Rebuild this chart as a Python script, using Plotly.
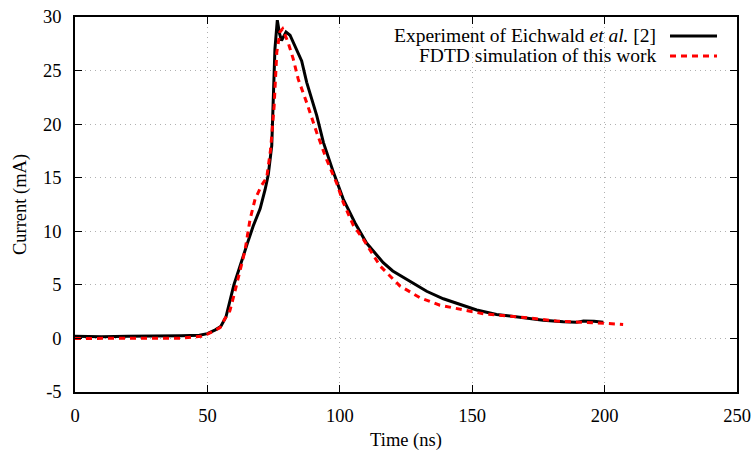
import plotly.graph_objects as go

# Experiment (Eichwald et al.)
exp_t = [0, 10, 20, 30, 40, 47, 50, 53, 55, 57, 59, 60, 62, 63.5, 65, 67.3, 69.9, 71.8, 73, 74.3,
         75.5, 76.4, 77.2, 78.0, 79.7, 81.2, 83.7, 85.6, 87.5, 91.3, 93.8, 97.6, 101.3, 105.7,
         110.1, 116.4, 120, 125.2, 132.8, 139.1, 146.6, 151.7, 159.2, 166.8, 176.8, 184.4,
         189.4, 192, 196, 199.5]
exp_i = [0.2, 0.15, 0.2, 0.2, 0.25, 0.3, 0.45, 0.8, 1.1, 2.0, 4.2, 5.0, 6.5, 7.7, 8.8, 10.5, 12.1,
         13.9, 15.3, 18.0, 27.0, 29.7, 28.5, 27.8, 28.6, 28.3, 27.0, 25.9, 23.9, 20.8, 18.3, 15.5,
         13.0, 10.8, 8.9, 7.07, 6.3, 5.5, 4.4, 3.7, 3.1, 2.65, 2.24, 2.0, 1.7, 1.55, 1.5, 1.62,
         1.6, 1.5]

# FDTD simulation
sim_t = [0, 10, 20, 30, 40, 47.8, 50, 53.5, 54.8, 56.5, 58.5, 60, 61.7, 64.2, 66.1, 68, 70.5,
         72.4, 73.9, 75.2, 76.2, 77.4, 78.4, 80.5, 82.4, 84.3, 87.5, 91.3, 95, 98.8, 101.3, 105,
         108.9, 115.2, 122.7, 130.3, 137.8, 146.6, 154.2, 168, 181.8, 196.9, 205.8, 207]
sim_i = [0.0, 0.0, 0.0, 0.0, 0.02, 0.2, 0.4, 0.84, 1.0, 1.8, 2.6, 4.0, 5.7, 8.2, 11.1, 13.0, 14.3,
         15.0, 17.7, 21.7, 26.7, 28.6, 28.9, 27.6, 26.1, 24.2, 22.0, 19.2, 16.7, 14.5, 12.7, 10.6,
         9.25, 6.76, 4.9, 3.8, 3.1, 2.65, 2.3, 2.0, 1.62, 1.46, 1.34, 1.3]

x_ticks = [0, 50, 100, 150, 200, 250]
y_ticks = [-5, 0, 5, 10, 15, 20, 25, 30]
legend_labels = ["Experiment of Eichwald <i>et al.</i> [2]", "FDTD simulation of this work"]

FONT = "Liberation Serif"
FS = 18.5
LFS = 19.5

fig = go.Figure()
fig.add_trace(go.Scatter(x=exp_t, y=exp_i, mode="lines",
                         line=dict(color="black", width=3), showlegend=False))
fig.add_trace(go.Scatter(x=sim_t, y=sim_i, mode="lines",
                         line=dict(color="#ff0000", width=3, dash="6px,5px"), showlegend=False))

axis_common = dict(showline=True, linecolor="black", linewidth=1.5, mirror="ticks",
                   ticks="inside", ticklen=7, tickwidth=1.2, tickcolor="black",
                   showgrid=True, gridcolor="#b0b0b0", griddash="1px,4px", gridwidth=1,
                   zeroline=False, automargin=False,
                   tickfont=dict(family=FONT, size=FS, color="black"))

fig.update_xaxes(range=[0, 250], tickvals=x_ticks, ticktext=[str(v) for v in x_ticks],
                 title=dict(text="Time (ns)", font=dict(family=FONT, size=FS, color="black"), standoff=8),
                 ticklabelstandoff=6, **axis_common)
fig.update_yaxes(range=[-5, 30], tickvals=y_ticks, ticktext=[str(v) for v in y_ticks],
                 title=dict(text="Current (mA)", font=dict(family=FONT, size=FS, color="black"), standoff=12),
                 ticklabelstandoff=8, **axis_common)

# Custom legend (text right-aligned, sample to the right, gnuplot style)
plot_l, plot_r, plot_t, plot_b = 75, 737, 17, 392
W, H = 756, 452
def px(xp):
    return (xp - plot_l) / (plot_r - plot_l)
def py(yp):
    return (plot_b - yp) / (plot_b - plot_t)

legend_rows = [36, 56]
styles = [dict(color="black", width=3), dict(color="#ff0000", width=3, dash="6px,5px")]
for lbl, yr, st in zip(legend_labels, legend_rows, styles):
    fig.add_annotation(x=px(658), y=py(yr), xref="paper", yref="paper", text=lbl,
                       showarrow=False, xanchor="right", yanchor="middle",
                       font=dict(family=FONT, size=LFS, color="black"))
    fig.add_shape(type="line", xref="paper", yref="paper", x0=px(670), x1=px(717),
                  y0=py(yr), y1=py(yr), line=st)

fig.update_layout(width=W, height=H, margin=dict(l=plot_l, r=W - plot_r, t=plot_t, b=H - plot_b),
                  plot_bgcolor="white", paper_bgcolor="white",
                  font=dict(family=FONT, size=FS, color="black"))

fig.write_html("out.html")
